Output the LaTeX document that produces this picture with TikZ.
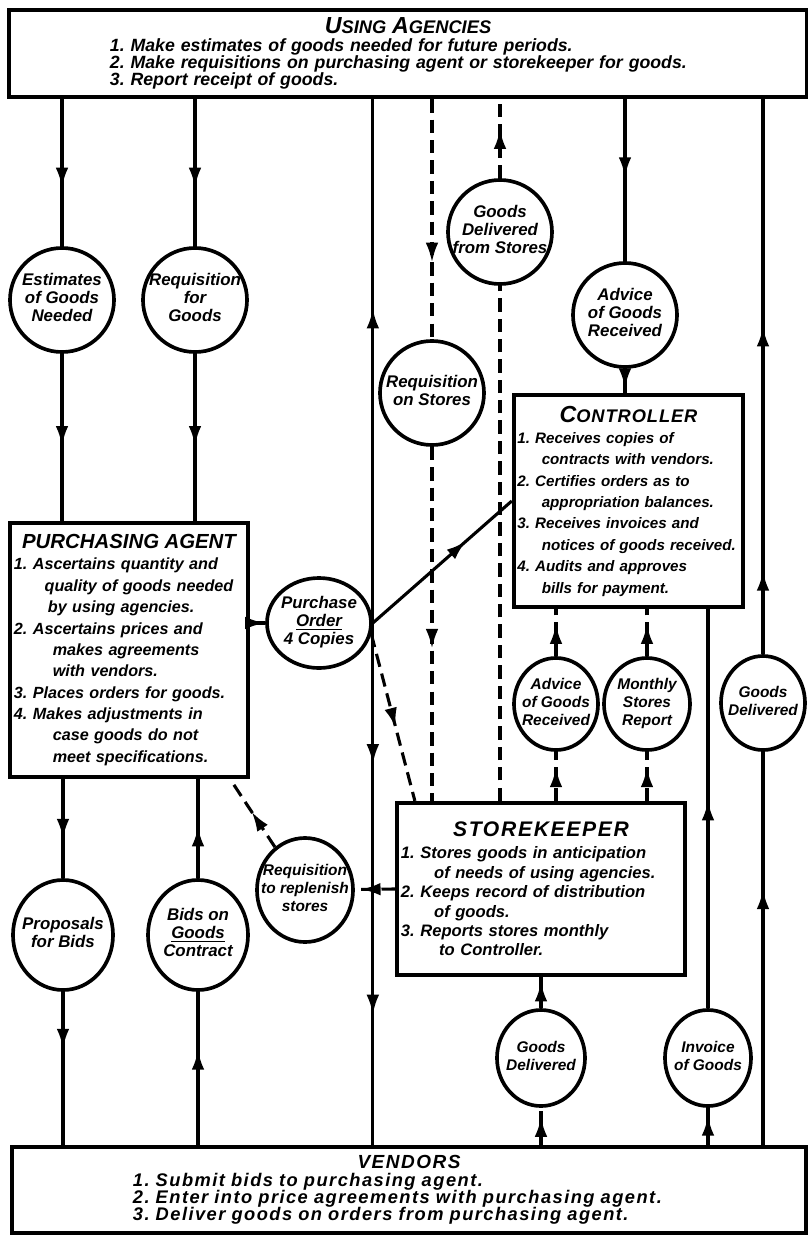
\documentclass[tikz,border=0pt]{standalone}
\usepackage{fontspec}
\setmainfont{Liberation Sans}
\usetikzlibrary{arrows.meta,decorations.markings,shapes.geometric}

\newcommand{\headcap}[2]{{\fontsize{16.5}{16}\selectfont #1}{\fontsize{13}{13}\selectfont #2}}
\newcommand{\disctext}[1]{\makebox[0pt]{\begin{tabular}{@{}c@{}}#1\end{tabular}}}

\tikzset{
  >={Latex[length=14pt,width=9pt]},
  arrowat/.style={postaction={decorate,decoration={markings,mark=at position #1 with {\arrow{>}}}}},
  flow/.style={line width=2.2pt},
  dashflow/.style={line width=2.2pt,dash pattern=on 9.5pt off 5pt},
  agencybox/.style={draw,line width=3pt,inner sep=0pt,align=left,
    execute at begin node={\frenchspacing\lineskiplimit=-20pt}},
  disc/.style 2 args={draw,ellipse,line width=2.6pt,inner sep=0pt,
    minimum width=#1,minimum height=#2,
    font=\bfseries\itshape\fontsize{12}{13}\selectfont},
  smalldisc/.style 2 args={disc={#1}{#2},font=\bfseries\itshape\fontsize{11}{12.5}\selectfont},
}

\begin{document}
\begin{tikzpicture}[x=0.025cm,y=-0.025cm,font=\bfseries\itshape]
\useasboundingbox (0,0) rectangle (808,1237);

% the five offices
\node[agencybox,minimum width=19.93cm,minimum height=2.18cm,text width=14.9cm,
      font=\bfseries\itshape\fontsize{12.6}{12.2}\selectfont] (agencies) at (408,53.5)
 {\hfill\headcap{U}{SING} \headcap{A}{GENCIES}\hfill\null\\
  1. Make estimates of goods needed for future periods.\\
  2. Make requisitions on purchasing agent or storekeeper for goods.\\
  3. Report receipt of goods.};
\node[agencybox,minimum width=19.85cm,minimum height=2.15cm,text width=13.8cm,
      font=\bfseries\itshape\fontsize{13}{12.4}\selectfont\addfontfeatures{LetterSpace=8}] (vendors) at (409,1190)
 {\hfill{\fontsize{13.5}{13}\selectfont VENDORS}\hfill\null\\
  1. Submit bids to purchasing agent.\\
  2. Enter into price agreements with purchasing agent.\\
  3. Deliver goods on orders from purchasing agent.};
\node[agencybox,minimum width=5.95cm,minimum height=6.35cm,text width=5.75cm,
      font=\bfseries\itshape\fontsize{11.5}{15.2}\selectfont] (purch) at (129,650)
 {\hfill{\fontsize{14.5}{14}\selectfont PURCHASING AGENT}\hfill\null\\
  1. Ascertains quantity and\\
  \hspace*{1.9em}quality of goods needed\\
  \hspace*{2.1em}by using agencies.\\
  2. Ascertains prices and\\
  \hspace*{2.4em}makes agreements\\
  \hspace*{2.4em}with vendors.\\
  3. Places orders for goods.\\
  4. Makes adjustments in\\
  \hspace*{2.4em}case goods do not\\
  \hspace*{2.4em}meet specifications.};
\node[agencybox,minimum width=5.73cm,minimum height=5.3cm,text width=5.55cm,
      font=\bfseries\itshape\fontsize{10.8}{15.2}\selectfont] (ctrl) at (628.5,501)
 {\hfill{\addfontfeatures{LetterSpace=5}\headcap{C}{ONTROLLER}}\hfill\null\\
  1. Receives copies of\\
  \hspace*{1.6em}contracts with vendors.\\
  2. Certifies orders as to\\
  \hspace*{1.6em}appropriation balances.\\
  3. Receives invoices and\\
  \hspace*{1.6em}notices of goods received.\\
  4. Audits and approves\\
  \hspace*{1.6em}bills for payment.};
\node[agencybox,minimum width=7.2cm,minimum height=4.3cm,text width=7cm,
      font=\bfseries\itshape\fontsize{11.8}{13.8}\selectfont] (store) at (541,889)
 {\hfill{\fontsize{15}{14}\selectfont\addfontfeatures{LetterSpace=8}STOREKEEPER}\hfill\null\\[2pt]
  1. Stores goods in anticipation\\
  \hspace*{2em}of needs of using agencies.\\
  2. Keeps record of distribution\\
  \hspace*{2em}of goods.\\
  3. Reports stores monthly\\
  \hspace*{2.3em}to Controller.};

% the papers and goods that pass between them
\node[disc={2.6cm}{2.6cm}] (est) at (62,300) {\disctext{Estimates\\of Goods\\Needed}};
\node[disc={2.6cm}{2.6cm}] (reqg) at (195,300) {\disctext{Requisition\\for\\Goods}};
\node[disc={2.6cm}{2.6cm}] (delst) at (500,232) {\disctext{Goods\\Delivered\\from Stores}};
\node[disc={2.6cm}{2.6cm}] (advtop) at (625,315) {\disctext{Advice\\of Goods\\Received}};
\node[disc={2.6cm}{2.6cm}] (reqst) at (432,393) {\disctext{Requisition\\on Stores}};
\node[disc={2.6cm}{2.25cm}] (po) at (319,623) {\disctext{Purchase\\\underline{Order}\\4 Copies}};
\node[smalldisc={2.1cm}{2.3cm}] (advlow) at (556,704) {\disctext{Advice\\of Goods\\Received}};
\node[smalldisc={2.15cm}{2.3cm}] (monthly) at (647,704) {\disctext{Monthly\\Stores\\Report}};
\node[smalldisc={2.1cm}{2.35cm}] (gdright) at (763,703) {\disctext{Goods\\Delivered}};
\node[smalldisc={2.4cm}{2.6cm}] (reqrep) at (305,890) {\disctext{Requisition\\to replenish\\stores}};
\node[disc={2.5cm}{2.75cm}] (prop) at (63,935) {\disctext{Proposals\\for Bids}};
\node[disc={2.5cm}{2.75cm}] (bids) at (198,935) {\disctext{Bids on\\\underline{Goods}\\Contract}};
\node[smalldisc={2.2cm}{2.4cm}] (gdlow) at (541,1058) {\disctext{Goods\\Delivered}};
\node[smalldisc={2.15cm}{2.4cm}] (inv) at (708,1058) {\disctext{Invoice\\of Goods}};

% using agencies -> purchasing agent
\draw[flow,arrowat=0.6] (est |- agencies.south) -- (est);
\draw[flow,arrowat=0.55] (est) -- (est |- purch.north);
\draw[flow,arrowat=0.6] (reqg |- agencies.south) -- (reqg);
\draw[flow,arrowat=0.55] (reqg) -- (reqg |- purch.north);

% purchasing agent <-> vendors
\draw[flow,arrowat=0.6] (prop |- purch.south) -- (prop);
\draw[flow,arrowat=0.37] (prop) -- (prop |- vendors.north);
\draw[flow,arrowat=0.62] (bids |- vendors.north) -- (bids);
\draw[flow,arrowat=0.52] (bids) -- (bids |- purch.south);

% purchase order and its copies
\draw[flow,arrowat=0.98] (po.west -| purch.east) -- (po.west);
\draw[flow,arrowat=0.6] (po.east) -- (po.east |- agencies.south);
\draw[flow,arrowat=0.27,arrowat=0.75] (po.east) -- (po.east |- vendors.north);
\draw[flow,arrowat=0.67] (po.east) -- (ctrl.west);
\draw[dashflow,arrowat=0.56] (po.-12) -- ([xshift=0.5cm]store.north west);

% stores
\draw[dashflow,arrowat=0.68] (reqst |- agencies.south) -- (reqst);
\draw[dashflow,arrowat=0.57] (reqst) -- (reqst |- store.north);
\draw[dashflow] (delst |- store.north) -- (delst);
\draw[dashflow,arrowat=0.62] (delst) -- (delst |- agencies.south);
\draw[dashflow,arrowat=0.85] (store.west) -- (reqrep);
\draw[dashflow,arrowat=0.52] (reqrep.125) -- ([xshift=-0.5cm]purch.south east);

% controller
\draw[flow,arrowat=0.48] (advtop |- agencies.south) -- (advtop);
\draw[flow,arrowat=0.8] (advtop) -- (advtop |- ctrl.north);
\draw[dashflow,arrowat=0.68] (advlow |- store.north) -- (advlow);
\draw[dashflow,arrowat=0.68] (advlow) -- (advlow |- ctrl.south);
\draw[dashflow,arrowat=0.68] (monthly |- store.north) -- (monthly);
\draw[dashflow,arrowat=0.68] (monthly) -- (monthly |- ctrl.south);
\draw[flow,arrowat=0.78] (inv |- vendors.north) -- (inv);
\draw[flow,arrowat=0.52] (inv) -- (inv |- ctrl.south);

% goods from vendors
\draw[dashflow,arrowat=0.75] (gdlow |- vendors.north) -- (gdlow);
\draw[flow,arrowat=0.85] (gdlow) -- (gdlow |- store.south);
\draw[flow,arrowat=0.65] (gdright |- vendors.north) -- (gdright);
\draw[flow,arrowat=0.15,arrowat=0.59] (gdright) -- (gdright |- agencies.south);
\end{tikzpicture}
\end{document}
